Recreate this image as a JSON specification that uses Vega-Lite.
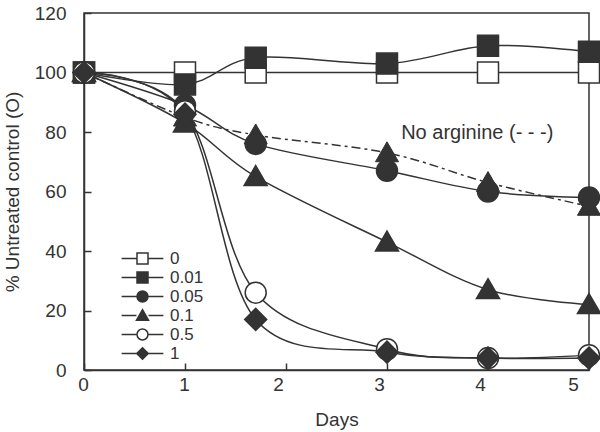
{
  "$schema": "https://vega.github.io/schema/vega-lite/v6.json",
  "width": 505,
  "height": 357,
  "autosize": "none",
  "padding": {"left": 84, "top": 13, "right": 11, "bottom": 62},
  "background": "white",
  "config": {
    "font": "Liberation Sans",
    "view": {"stroke": "#333", "strokeWidth": 1.5},
    "axis": {
      "domainColor": "#333", "domainWidth": 1.5, "tickColor": "#333", "tickWidth": 1.5,
      "labelColor": "#333", "titleColor": "#333", "labelFontSize": 19, "titleFontSize": 19,
      "titleFontWeight": "normal", "grid": false
    }
  },
  "datasets": {
    "series": [
      {"s": "0", "d": 0, "v": 100}, {"s": "0", "d": 1, "v": 100}, {"s": "0", "d": 1.7, "v": 100}, {"s": "0", "d": 3, "v": 100}, {"s": "0", "d": 4, "v": 100}, {"s": "0", "d": 5, "v": 100},
      {"s": "0.01", "d": 0, "v": 100}, {"s": "0.01", "d": 1, "v": 96}, {"s": "0.01", "d": 1.7, "v": 105}, {"s": "0.01", "d": 3, "v": 103}, {"s": "0.01", "d": 4, "v": 109}, {"s": "0.01", "d": 5, "v": 107},
      {"s": "0.05", "d": 0, "v": 100}, {"s": "0.05", "d": 1, "v": 89}, {"s": "0.05", "d": 1.7, "v": 76}, {"s": "0.05", "d": 3, "v": 67}, {"s": "0.05", "d": 4, "v": 60}, {"s": "0.05", "d": 5, "v": 58},
      {"s": "0.1", "d": 0, "v": 100}, {"s": "0.1", "d": 1, "v": 83}, {"s": "0.1", "d": 1.7, "v": 65}, {"s": "0.1", "d": 3, "v": 43}, {"s": "0.1", "d": 4, "v": 27}, {"s": "0.1", "d": 5, "v": 22},
      {"s": "0.5", "d": 0, "v": 100}, {"s": "0.5", "d": 1, "v": 87}, {"s": "0.5", "d": 1.7, "v": 26}, {"s": "0.5", "d": 3, "v": 7}, {"s": "0.5", "d": 4, "v": 4}, {"s": "0.5", "d": 5, "v": 5},
      {"s": "1", "d": 0, "v": 100}, {"s": "1", "d": 1, "v": 86}, {"s": "1", "d": 1.7, "v": 17}, {"s": "1", "d": 3, "v": 6}, {"s": "1", "d": 4, "v": 4}, {"s": "1", "d": 5, "v": 4}
    ],
    "noarg": [
      {"d": 0, "v": 100}, {"d": 1, "v": 85}, {"d": 1.7, "v": 79}, {"d": 3, "v": 73}, {"d": 4, "v": 63}, {"d": 5, "v": 55}
    ],
    "note": [
      {"d": 3.14, "v": 79.7, "t": "No arginine (- - -)"}
    ]
  },
  "resolve": {"scale": {"shape": "independent"}, "legend": {"shape": "independent"}},
  "layer": [
    {
      "data": {"name": "series"},
      "mark": {"type": "line", "interpolate": "cardinal", "stroke": "#333", "strokeWidth": 1.5},
      "encoding": {
        "x": {"field": "d", "type": "quantitative", "scale": {"domain": [0, 5], "nice": false},
          "axis": {"values": [0, 1, 2, 3, 4, 5], "format": "d", "tickSize": -7, "labelPadding": 12, "labelFlush": false, "title": "Days", "titlePadding": 16,
            "encoding": {"labels": {"dx": {"value": {"expr": "datum.value == 5 ? -16 : (datum.value >= 2 ? -8 : -1)"}}}}}},
        "y": {"field": "v", "type": "quantitative", "scale": {"domain": [0, 120], "nice": false},
          "axis": {"values": [0, 20, 40, 60, 80, 100, 120], "tickSize": -7, "labelPadding": 25, "title": "% Untreated control (O)", "titlePadding": 12}},
        "detail": {"field": "s"}
      }
    },
    {
      "data": {"name": "noarg"},
      "mark": {"type": "line", "interpolate": "cardinal", "stroke": "#333", "strokeWidth": 1.5, "strokeDash": [9, 4, 3, 4]},
      "encoding": {
        "x": {"field": "d", "type": "quantitative"},
        "y": {"field": "v", "type": "quantitative"}
      }
    },
    {
      "data": {"name": "noarg"},
      "mark": {"type": "point", "filled": true, "fill": "#333", "stroke": "#333", "strokeWidth": 1, "opacity": 1, "size": 441, "shape": "M0,-1.05L1.1,0.85L-1.1,0.85Z"},
      "encoding": {
        "x": {"field": "d", "type": "quantitative"},
        "y": {"field": "v", "type": "quantitative"}
      }
    },
    {
      "data": {"name": "series"},
      "mark": {"type": "point", "filled": true, "stroke": "#333", "strokeWidth": 1.5, "opacity": 1, "size": 441},
      "encoding": {
        "x": {"field": "d", "type": "quantitative"},
        "y": {"field": "v", "type": "quantitative"},
        "shape": {"field": "s", "type": "nominal", "legend": null,
          "scale": {"domain": ["0", "0.01", "0.05", "0.1", "0.5", "1"],
            "range": ["M-1,-1H1V1H-1Z", "M-1,-1H1V1H-1Z", "M1,0A1,1,0,1,1,-1,0A1,1,0,1,1,1,0Z", "M0,-1.05L1.1,0.85L-1.1,0.85Z", "M1,0A1,1,0,1,1,-1,0A1,1,0,1,1,1,0Z", "M0,-1.05L1.05,0L0,1.05L-1.05,0Z"]}},
        "fill": {"field": "s", "type": "nominal", "legend": null,
          "scale": {"domain": ["0", "0.01", "0.05", "0.1", "0.5", "1"],
            "range": ["white", "#333", "#333", "#333", "white", "#333"]}}
      }
    },
    {
      "data": {"name": "series"},
      "transform": [{"filter": "datum.d == 0"}],
      "mark": {"type": "point", "filled": true, "fill": "#333", "stroke": "#333", "opacity": 0, "size": 1},
      "encoding": {
        "x": {"field": "d", "type": "quantitative"},
        "y": {"field": "v", "type": "quantitative"},
        "shape": {"field": "s", "type": "nominal",
          "scale": {"domain": ["0", "0.01", "0.05", "0.1", "0.5", "1"],
            "range": ["M-1,-1H1V1H-1Z M-3.8,0H-1 M1,0H3.8", "M-1,-1H1V1H-1Z M-3.8,0H-1 M1,0H3.8", "M1,0A1,1,0,1,1,-1,0A1,1,0,1,1,1,0Z M-3.8,0H-1 M1,0H3.8", "M0,-1.05L1.1,0.85L-1.1,0.85Z M-3.8,0H-1.1 M1.1,0H3.8", "M1,0A1,1,0,1,1,-1,0A1,1,0,1,1,1,0Z M-3.8,0H-1 M1,0H3.8", "M0,-1.05L1.05,0L0,1.05L-1.05,0Z M-3.8,0H-1.05 M1.05,0H3.8"]},
          "legend": {
            "title": null, "orient": "none", "legendX": 50, "legendY": 237, "padding": 0,
            "symbolSize": 121, "symbolStrokeColor": "#333", "symbolStrokeWidth": 1.5, "symbolOpacity": 1,
            "labelFontSize": 17, "labelColor": "#333", "labelOffset": 19, "rowPadding": 1,
            "encoding": {"symbols": {
              "fill": {"value": {"expr": "(datum.value == '0' || datum.value == '0.5') ? 'white' : '#333'"}},
              "stroke": {"value": "#333"},
              "strokeWidth": {"value": 1.5},
              "opacity": {"value": 1}
            }}
          }}
      }
    },
    {
      "data": {"name": "note"},
      "mark": {"type": "text", "align": "left", "baseline": "middle", "fontSize": 20, "color": "#333"},
      "encoding": {
        "x": {"field": "d", "type": "quantitative"},
        "y": {"field": "v", "type": "quantitative"},
        "text": {"field": "t"}
      }
    }
  ]
}
